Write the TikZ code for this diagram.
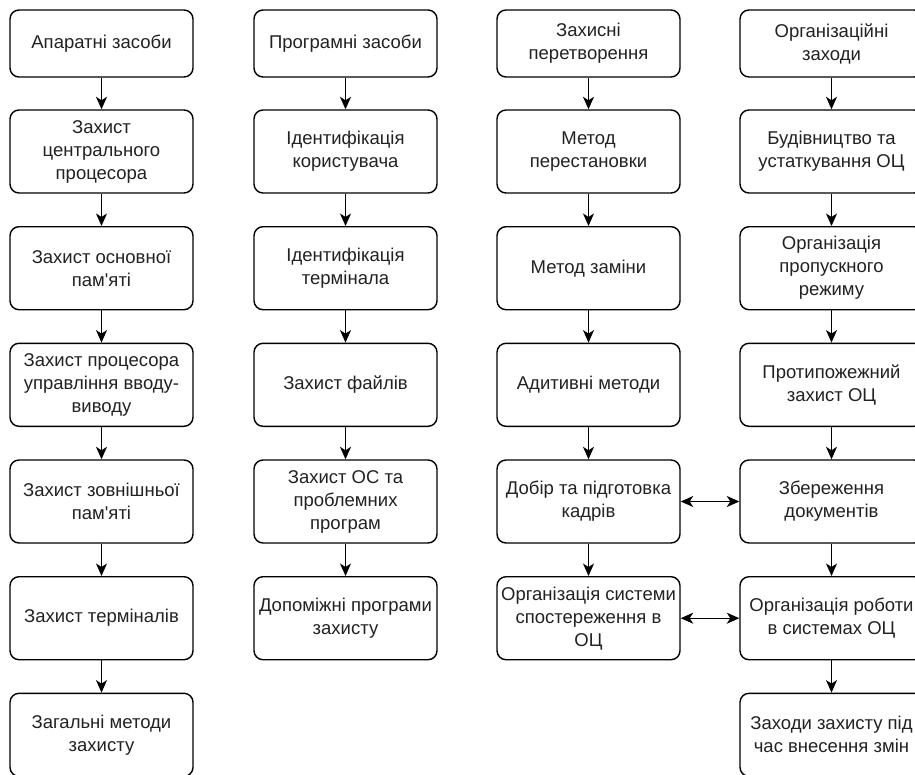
\documentclass[tikz,border=0pt]{standalone}
\usepackage{fontspec}
\setmainfont{Liberation Sans}[Ligatures=TeXOff]
\usetikzlibrary{arrows.meta}
\definecolor{txt}{HTML}{222222}
\tikzset{
  box/.style={draw=black, line width=1.4pt, rounded corners=9pt, minimum width=183pt,
    minimum height=83pt, inner sep=0pt, align=center, text=txt,
    font=\fontsize{18.5}{23}\selectfont},
  topbox/.style={box, minimum height=67pt},
  conn/.style={draw=black, line width=1.4pt, -{Stealth[length=12.5pt,width=11pt,inset=3.5pt]}},
  dconn/.style={draw=black, line width=1.4pt, {Stealth[length=12.5pt,width=11pt,inset=3.5pt]}-{Stealth[length=12.5pt,width=11pt,inset=3.5pt]}}
}
\begin{document}
\begin{tikzpicture}[x=1pt,y=-1pt]
\useasboundingbox (0,0) rectangle (915,774);
\clip (0,0) rectangle (915,774);
\fill[white] (0,0) rectangle (915,774);
% column 1
\node[topbox] (a1) at (101.5,43.5) {Апаратні засоби};
\node[box] (a2) at (101.5,151.5) {Захист\\центрального\\процесора};
\node[box] (a3) at (101.5,268.2) {Захист основної\\пам'яті};
\node[box] (a4) at (101.5,384.8) {Захист процесора\\управління вводу-\\виводу};
\node[box] (a5) at (101.5,501.5) {Захист зовнішньої\\пам'яті};
\node[box] (a6) at (101.5,618.2) {Захист терміналів};
\node[box] (a7) at (101.5,734.8) {Загальні методи\\захисту};
% column 2
\node[topbox] (b1) at (345.5,43.5) {Програмні засоби};
\node[box] (b2) at (345.5,151.5) {Ідентифікація\\користувача};
\node[box] (b3) at (345.5,268.2) {Ідентифікація\\термінала};
\node[box] (b4) at (345.5,384.8) {Захист файлів};
\node[box] (b5) at (345.5,501.5) {Захист ОС та\\проблемних\\програм};
\node[box] (b6) at (345.5,618.2) {Допоміжні програми\\захисту};
% column 3
\node[topbox] (c1) at (588.5,43.5) {Захисні\\перетворення};
\node[box] (c2) at (588.5,151.5) {Метод\\перестановки};
\node[box] (c3) at (588.5,268.2) {Метод заміни};
\node[box] (c4) at (588.5,384.8) {Адитивні методи};
\node[box] (c5) at (588.5,501.5) {Добір та підготовка\\кадрів};
\node[box] (c6) at (588.5,618.2) {Організація системи\\спостереження в\\ОЦ};
% column 4
\node[topbox] (d1) at (831.5,43.5) {Організаційні\\заходи};
\node[box] (d2) at (831.5,151.5) {Будівництво та\\устаткування ОЦ};
\node[box] (d3) at (831.5,268.2) {Організація\\пропускного\\режиму};
\node[box] (d4) at (831.5,384.8) {Протипожежний\\захист ОЦ};
\node[box] (d5) at (831.5,501.5) {Збереження\\документів};
\node[box] (d6) at (831.5,618.2) {Організація роботи\\в системах ОЦ};
\node[box] (d7) at (831.5,734.8) {Заходи захисту під\\час внесення змін};
% arrows
\foreach \p/\q in {a1/a2,a2/a3,a3/a4,a4/a5,a5/a6,a6/a7,
                   b1/b2,b2/b3,b3/b4,b4/b5,b5/b6,
                   c1/c2,c2/c3,c3/c4,c4/c5,c5/c6,
                   d1/d2,d2/d3,d3/d4,d4/d5,d5/d6,d6/d7}
  \draw[conn] (\p.south) -- (\q.north);
\draw[dconn] (c5.east) -- (d5.west);
\draw[dconn] (c6.east) -- (d6.west);
\end{tikzpicture}
\end{document}
